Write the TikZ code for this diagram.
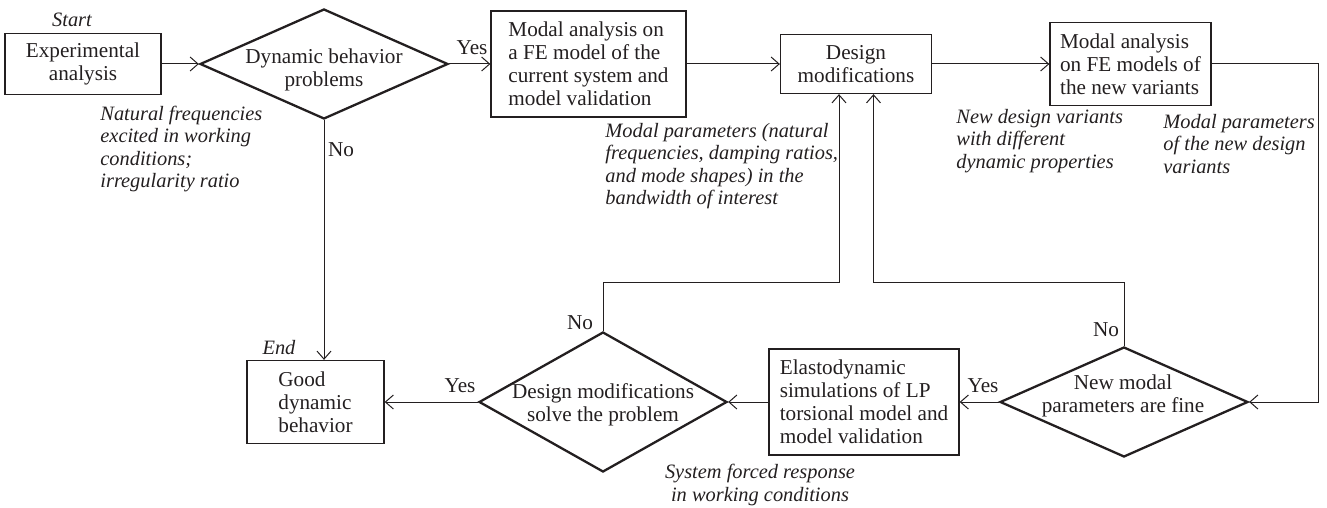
\documentclass[tikz,border=0pt]{standalone}
\usepackage{fontspec}
\setmainfont{Liberation Serif}
\usetikzlibrary{shapes.geometric,arrows.meta}
\definecolor{ink}{RGB}{35,31,32}
\begin{document}
\begin{tikzpicture}[x=0.5pt,y=-0.5pt,
  font=\fontsize{10.6}{11.5}\selectfont,
  box/.style={draw=ink, line width=0.65pt, inner sep=0pt, text=ink},
  dia/.style={draw=ink, line width=1.15pt, diamond, inner sep=0pt, minimum width=124pt},
  txt/.style={text=ink, inner sep=0pt, align=center},
  note/.style={text=ink, inner sep=0pt, font=\fontsize{10.2}{11.3}\selectfont\itshape, align=left},
  conn/.style={draw=ink, line width=0.5pt},
  arr/.style={conn, -{Straight Barb[length=4pt,width=7pt]}}]
\useasboundingbox (0,0) rectangle (1327,508);

% boxes
\node[box, minimum width=78pt, minimum height=30.5pt, align=center] (exp) at (83,64) {Experimental\\analysis};
\node[box, minimum width=97.5pt, minimum height=53pt, align=left] (modal1) at (588.5,64) {Modal analysis on\\a FE model of the\\current system and\\model validation};
\node[box, minimum width=75.5pt, minimum height=29.5pt, align=center] (design) at (856,64) {Design\\modifications};
\node[box, minimum width=80.5pt, minimum height=41.5pt, align=left] (modal2) at (1130.5,64) {Modal analysis\\on FE models of\\the new variants};
\node[box, minimum width=68.5pt, minimum height=41.5pt, align=left] (good) at (315.5,402) {Good\\dynamic\\behavior};
\node[box, minimum width=95pt, minimum height=53pt, align=left] (elasto) at (864,402) {Elastodynamic\\simulations of LP\\torsional model and\\model validation};

% diamonds
\node[dia, minimum height=55pt] (d1) at (324,64) {};
\node[dia, minimum height=70pt] (d2) at (603,402) {};
\node[dia, minimum height=55pt] (d3) at (1124,402) {};
\node[txt] (t1) at (324,70) {Dynamic behavior\\problems};
\node[txt] (t2) at (603,405) {Design modifications\\solve the problem};
\node[txt] (t3) at (1123,396) {New modal\\parameters are fine};

% junction line height
\coordinate (yl) at (0,282);
\coordinate (rc) at (1318,64);

% connectors
\draw[arr] (exp.east) -- (d1.west);
\draw[arr] (d1.east) -- (modal1.west);
\draw[arr] (modal1.east) -- (design.west);
\draw[arr] (design.east) -- (modal2.west);
\draw[arr] (modal2.east) -- (rc) |- (d3.east);
\draw[arr] (d3.west) -- (elasto.east);
\draw[arr] (elasto.west) -- (d2.east);
\draw[arr] (d2.west) -- (good.east);
\draw[arr] (d1.south) -- (d1.south |- good.north);
\draw[arr] (d2.north) -- (d2.north |- yl) -| ([xshift=-8.5pt]design.south);
\draw[arr] (d3.north) -- (d3.north |- yl) -| ([xshift=8.75pt]design.south);

% labels
\node[txt] (yes1) at (472,48) {Yes};
\node[txt] (no1) at (341,150) {No};
\node[txt] (yes2) at (460,386) {Yes};
\node[txt] (no2) at (580,323) {No};
\node[txt] (yes3) at (983,386) {Yes};
\node[txt] (no3) at (1106,330) {No};

% notes
\node[note] (start) at (72,20) {Start};
\node[note] (end) at (279,348) {End};
\node[note, anchor=west] (nf) at (100,149) {Natural frequencies\\excited in working\\conditions;\\irregularity ratio};
\node[note, anchor=west] (mp) at (605,166) {Modal parameters (natural\\frequencies, damping ratios,\\and mode shapes) in the\\bandwidth of interest};
\node[note, anchor=west] (ndv) at (956,141) {New design variants\\with different\\dynamic properties};
\node[note, anchor=west] (mpn) at (1163,144) {Modal parameters\\of the new design\\variants};
\node[note, align=center] (sfr) at (760,485) {System forced response\\in working conditions};
\end{tikzpicture}
\end{document}
